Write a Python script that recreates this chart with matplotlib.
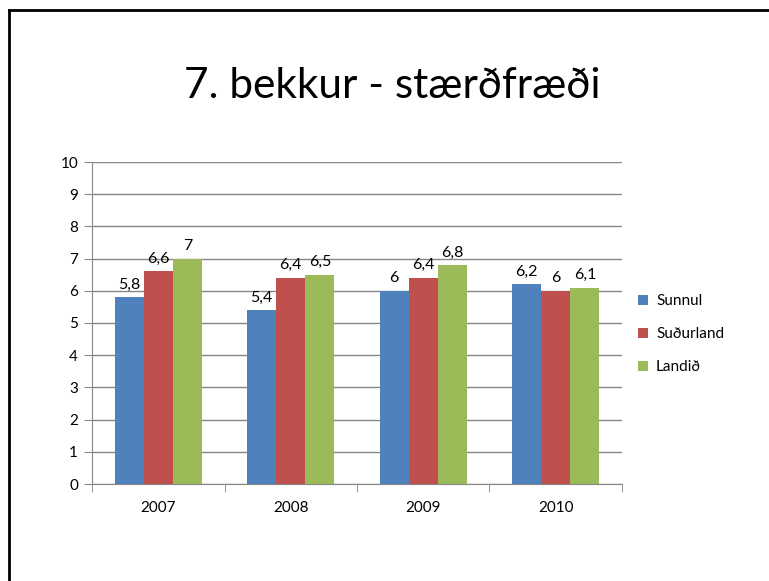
import matplotlib
matplotlib.use("Agg")
import matplotlib.pyplot as plt
from matplotlib.lines import Line2D
import numpy as np

years = ["2007", "2008", "2009", "2010"]
series = ["Sunnul", "Suðurland", "Landið"]
sunnul = [5.8, 5.4, 6.0, 6.2]
sudurland = [6.6, 6.4, 6.4, 6.0]
landid = [7.0, 6.5, 6.8, 6.1]
labels_sunnul = ["5,8", "5,4", "6", "6,2"]
labels_sudurland = ["6,6", "6,4", "6,4", "6"]
labels_landid = ["7", "6,5", "6,8", "6,1"]

colors = ["#4F81BD", "#C0504D", "#9BBB59"]
plt.rcParams["font.family"] = ["Lato", "DejaVu Sans"]

fig = plt.figure(figsize=(7.69, 5.81), dpi=100)
ax = fig.add_axes([92 / 769, 1 - 484 / 581, 530 / 769, 322 / 581])

x = np.arange(len(years))
w = 0.22
vals = [sunnul, sudurland, landid]
labs = [labels_sunnul, labels_sudurland, labels_landid]
for i, (v, lab) in enumerate(zip(vals, labs)):
    bars = ax.bar(x + (i - 1) * w, v, w, color=colors[i], label=series[i], zorder=3)
    for b, t in zip(bars, lab):
        ax.annotate(t, (b.get_x() + b.get_width() / 2, b.get_height()),
                    xytext=(0, 4), textcoords="offset points",
                    ha="center", va="bottom", fontsize=11.5)

ax.set_xlim(-0.5, len(years) - 0.5)
ax.set_ylim(0, 10)
ax.set_yticks(range(0, 11))
ax.yaxis.grid(True, color="#868686", linewidth=1, zorder=0)
ax.set_xticks(x)
ax.set_xticklabels(years, fontsize=11)
ax.set_xticks(np.arange(-0.5, len(years)), minor=True)
ax.tick_params(axis="x", which="major", length=0, pad=12)
ax.tick_params(axis="x", which="minor", length=6, color="#868686", direction="out")
ax.tick_params(axis="y", length=6, color="#868686", labelsize=11, pad=4)
for s in ["top", "right"]:
    ax.spines[s].set_visible(False)
for s in ["left", "bottom"]:
    ax.spines[s].set_color("#868686")

ax.legend(loc="center left", bbox_to_anchor=(1.005, 0.465), frameon=False,
          fontsize=11, handlelength=0.65, handleheight=0.65,
          labelspacing=1.25, handletextpad=0.5)

fig.text(392 / 769, 1 - 86 / 581, "7. bekkur - stærðfræði", ha="center",
         va="center", fontsize=30.5)

fig.add_artist(Line2D([9 / 769, 9 / 769], [0, 1 - 10 / 581], color="black",
                      linewidth=2, transform=fig.transFigure))
fig.add_artist(Line2D([9 / 769, 1], [1 - 10 / 581, 1 - 10 / 581], color="black",
                      linewidth=2, transform=fig.transFigure))

fig.savefig("out.png", dpi=100)
